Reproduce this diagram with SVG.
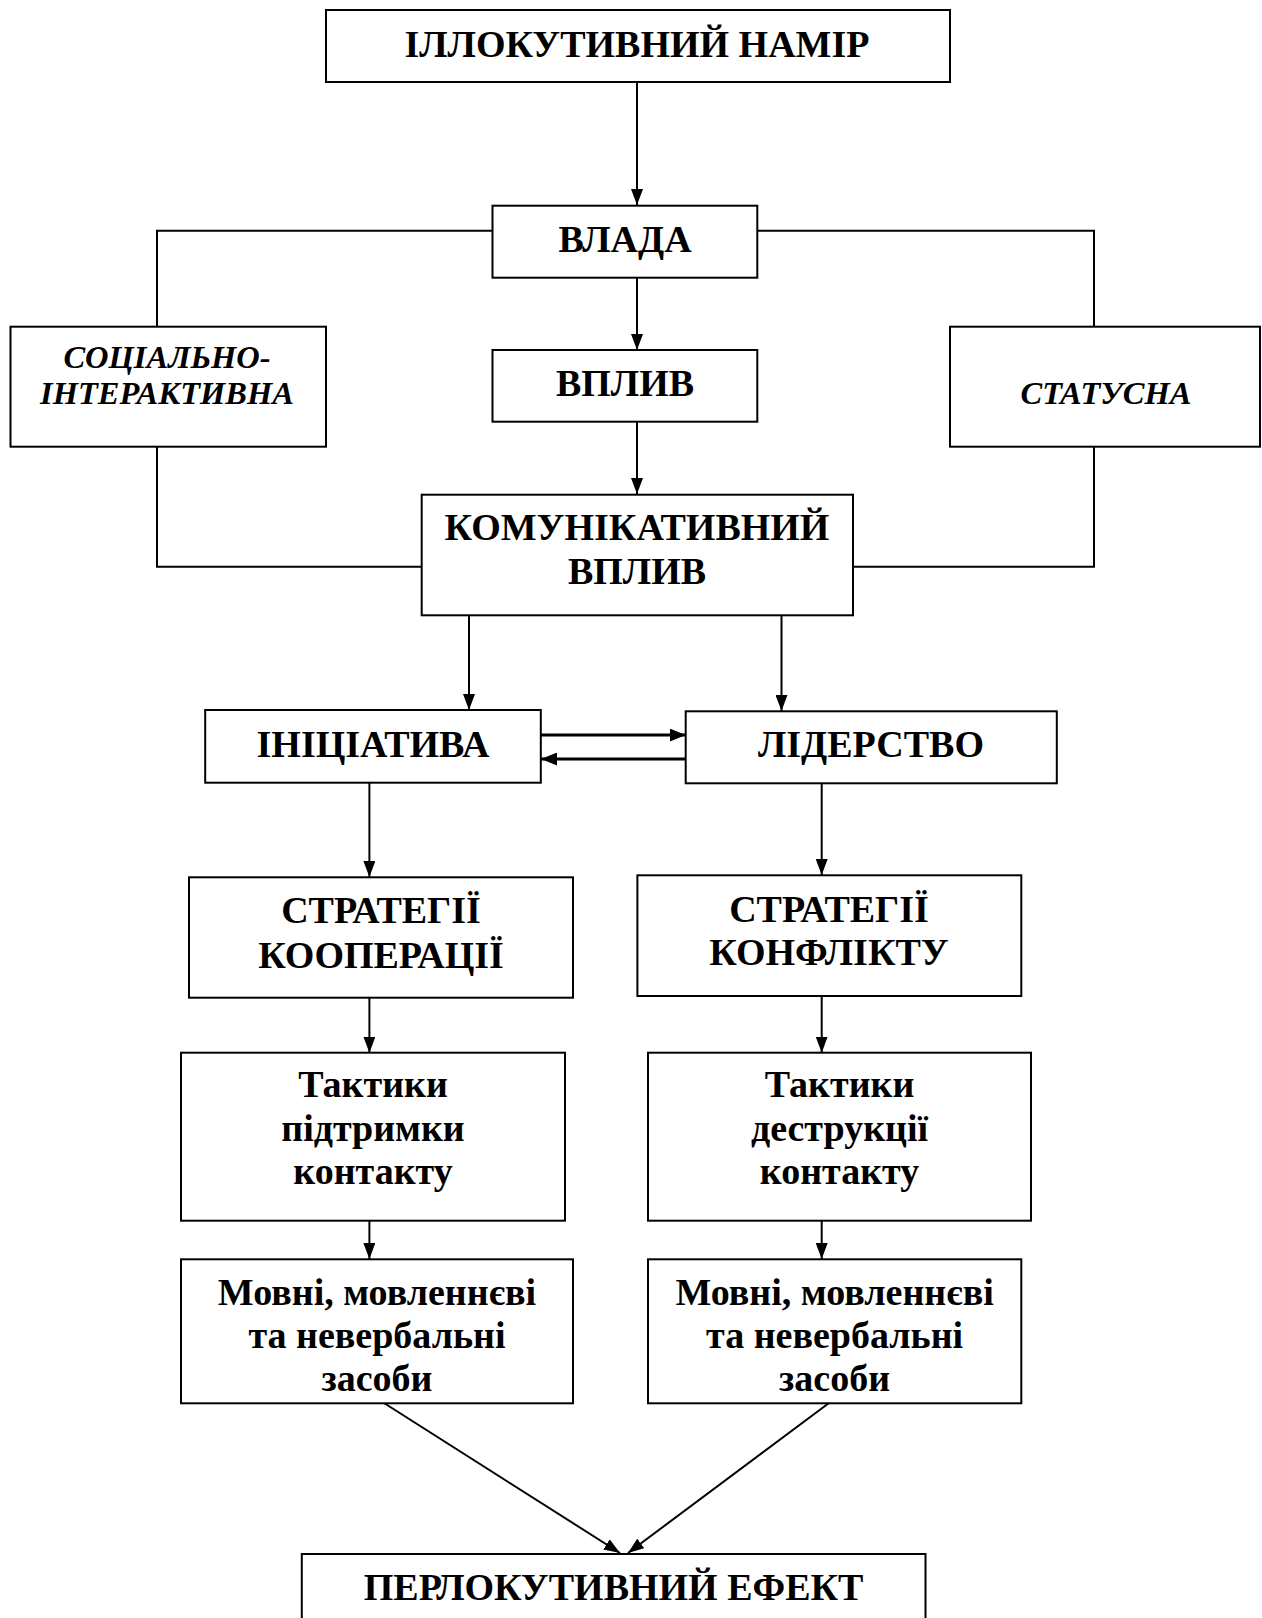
<svg xmlns="http://www.w3.org/2000/svg" width="1262" height="1618" viewBox="0 0 1262 1618">
  <style>
    .box { fill: #fff; stroke: #000; stroke-width: 2; }
    .t { font-family: "Liberation Serif", "Times New Roman", serif; font-weight: bold; font-size: 38px; text-anchor: middle; fill: #000; }
    .ti { font-family: "Liberation Serif", "Times New Roman", serif; font-weight: bold; font-style: italic; font-size: 32.5px; text-anchor: middle; fill: #000; }
    .ln { fill: none; stroke: #000; stroke-width: 2; }
    .ln2 { fill: none; stroke: #000; stroke-width: 3; }
  </style>
  <defs>
    <marker id="arr" viewBox="0 0 16 12" refX="16" refY="6" markerWidth="16" markerHeight="12" orient="auto" markerUnits="userSpaceOnUse">
      <path d="M0,0 L16,6 L0,12 z" fill="#000"/>
    </marker>
    <marker id="arrb" viewBox="0 0 16 13" refX="16" refY="6.5" markerWidth="16" markerHeight="13" orient="auto" markerUnits="userSpaceOnUse">
      <path d="M0,0 L16,6.5 L0,13 z" fill="#000"/>
    </marker>
  </defs>
  <rect width="1262" height="1618" fill="#fff"/>

  <g id="connectors">
    <!-- main vertical chain -->
    <line class="ln" x1="637" y1="82" x2="637" y2="205" marker-end="url(#arr)"/>
    <line class="ln" x1="637" y1="278" x2="637" y2="350" marker-end="url(#arr)"/>
    <line class="ln" x1="637" y1="422" x2="637" y2="494" marker-end="url(#arr)"/>
    <!-- side branches -->
    <polyline class="ln" points="492.5,230.7 157,230.7 157,326.7"/>
    <polyline class="ln" points="757,230.7 1094,230.7 1094,326.7"/>
    <polyline class="ln" points="157,446.7 157,566.7 421.7,566.7"/>
    <polyline class="ln" points="1094,446.7 1094,566.7 853,566.7"/>
    <!-- split into two columns -->
    <line class="ln" x1="469" y1="615" x2="469" y2="710" marker-end="url(#arr)"/>
    <line class="ln" x1="781.5" y1="615" x2="781.5" y2="711" marker-end="url(#arr)"/>
    <!-- mutual arrows -->
    <line class="ln2" x1="541" y1="735" x2="685.7" y2="735" marker-end="url(#arrb)"/>
    <line class="ln2" x1="685.7" y1="759" x2="541" y2="759" marker-end="url(#arrb)"/>
    <!-- left column -->
    <line class="ln" x1="369.4" y1="783" x2="369.4" y2="877" marker-end="url(#arr)"/>
    <line class="ln" x1="369.4" y1="998" x2="369.4" y2="1052.7" marker-end="url(#arr)"/>
    <line class="ln" x1="369.4" y1="1221" x2="369.4" y2="1259" marker-end="url(#arr)"/>
    <!-- right column -->
    <line class="ln" x1="821.7" y1="784" x2="821.7" y2="875" marker-end="url(#arr)"/>
    <line class="ln" x1="821.7" y1="996" x2="821.7" y2="1052.7" marker-end="url(#arr)"/>
    <line class="ln" x1="821.7" y1="1221" x2="821.7" y2="1259" marker-end="url(#arr)"/>
    <!-- converge -->
    <line class="ln" x1="384" y1="1403" x2="620" y2="1553" marker-end="url(#arr)"/>
    <line class="ln" x1="829" y1="1403" x2="628" y2="1553" marker-end="url(#arr)"/>
  </g>

  <g id="n-intent">
    <rect class="box" x="326" y="10" width="624" height="72"/>
    <text class="t" x="637" y="57">ІЛЛОКУТИВНИЙ НАМІР</text>
  </g>
  <g id="n-power">
    <rect class="box" x="492.5" y="205.7" width="264.8" height="72"/>
    <text class="t" x="625" y="252">ВЛАДА</text>
  </g>
  <g id="n-social">
    <rect class="box" x="10.5" y="326.7" width="315.5" height="120"/>
    <text class="ti" x="167" y="368">СОЦІАЛЬНО-</text>
    <text class="ti" x="167" y="404">ІНТЕРАКТИВНА</text>
  </g>
  <g id="n-status">
    <rect class="box" x="950" y="326.7" width="310" height="120"/>
    <text class="ti" x="1106" y="404">СТАТУСНА</text>
  </g>
  <g id="n-influence">
    <rect class="box" x="492.5" y="350" width="264.8" height="71.7"/>
    <text class="t" x="625" y="396">ВПЛИВ</text>
  </g>
  <g id="n-comm">
    <rect class="box" x="421.7" y="494.7" width="431.3" height="120.6"/>
    <text class="t" x="637" y="540">КОМУНІКАТИВНИЙ</text>
    <text class="t" x="637" y="584">ВПЛИВ</text>
  </g>
  <g id="n-initiative">
    <rect class="box" x="205.2" y="710" width="335.6" height="72.7"/>
    <text class="t" x="373" y="757">ІНІЦІАТИВА</text>
  </g>
  <g id="n-leadership">
    <rect class="box" x="685.7" y="711.3" width="371.1" height="72"/>
    <text class="t" x="871" y="757">ЛІДЕРСТВО</text>
  </g>
  <g id="n-coop">
    <rect class="box" x="189" y="877.3" width="384" height="120.4"/>
    <text class="t" x="381" y="923">СТРАТЕГІЇ</text>
    <text class="t" x="381" y="968">КООПЕРАЦІЇ</text>
  </g>
  <g id="n-conflict">
    <rect class="box" x="637.4" y="875.3" width="383.9" height="120.7"/>
    <text class="t" x="829" y="922">СТРАТЕГІЇ</text>
    <text class="t" x="829" y="965">КОНФЛІКТУ</text>
  </g>
  <g id="n-support">
    <rect class="box" x="181" y="1052.7" width="384" height="168"/>
    <text class="t" x="373" y="1097">Тактики</text>
    <text class="t" x="373" y="1141">підтримки</text>
    <text class="t" x="373" y="1184">контакту</text>
  </g>
  <g id="n-destruct">
    <rect class="box" x="648" y="1052.7" width="383" height="168"/>
    <text class="t" x="839.5" y="1097">Тактики</text>
    <text class="t" x="839.5" y="1141">деструкції</text>
    <text class="t" x="839.5" y="1184">контакту</text>
  </g>
  <g id="n-means-left">
    <rect class="box" x="181" y="1259.3" width="392" height="144"/>
    <text class="t" x="377" y="1305">Мовні, мовленнєві</text>
    <text class="t" x="377" y="1348">та невербальні</text>
    <text class="t" x="377" y="1391">засоби</text>
  </g>
  <g id="n-means-right">
    <rect class="box" x="648" y="1259.3" width="373.3" height="144"/>
    <text class="t" x="834.6" y="1305">Мовні, мовленнєві</text>
    <text class="t" x="834.6" y="1348">та невербальні</text>
    <text class="t" x="834.6" y="1391">засоби</text>
  </g>
  <g id="n-effect">
    <rect class="box" x="301.8" y="1554" width="623.7" height="90"/>
    <text class="t" x="613.6" y="1600">ПЕРЛОКУТИВНИЙ ЕФЕКТ</text>
  </g>
</svg>
